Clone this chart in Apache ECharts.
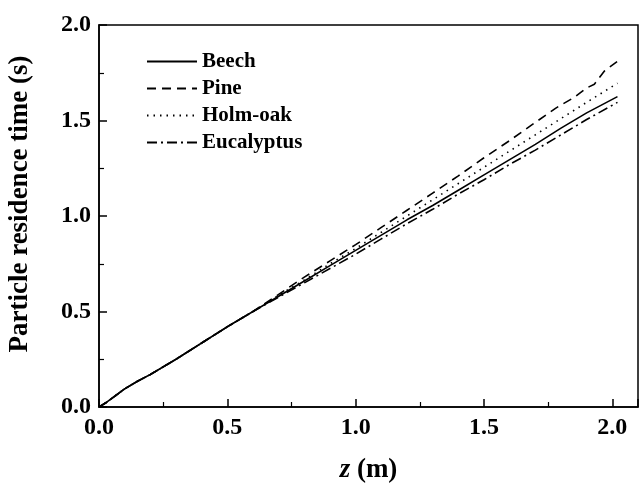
<!DOCTYPE html>
<html>
<head>
<meta charset="utf-8">
<script src="https://cdn.jsdelivr.net/npm/echarts@6/dist/echarts.min.js"></script>
<style>html,body{margin:0;padding:0;background:#fff;}#c{width:640px;height:484px;}</style>
</head>
<body>
<div id="c"></div>
<script>
const seriesNames = ['Beech', 'Pine', 'Holm-oak', 'Eucalyptus'];
const commonZ = [0, 0.03, 0.06, 0.1, 0.15, 0.2, 0.3, 0.4, 0.5, 0.6];
const commonT = [0, 0.025, 0.055, 0.095, 0.135, 0.17, 0.25, 0.335, 0.42, 0.5];

const beechZ = [0.7, 0.8, 0.9, 1.0, 1.1, 1.2, 1.3, 1.4, 1.5, 1.6, 1.7, 1.8, 1.9, 2.02];
const beechT = [0.58, 0.66, 0.74, 0.82, 0.90, 0.98, 1.055, 1.135, 1.215, 1.295, 1.375, 1.46, 1.54, 1.625];

const pineZ = [0.7, 0.8, 0.9, 1.0, 1.1, 1.2, 1.3, 1.4, 1.5, 1.6, 1.7, 1.78, 1.85, 1.9, 1.93, 1.97, 2.02];
const pineT = [0.59, 0.68, 0.765, 0.85, 0.94, 1.03, 1.12, 1.21, 1.305, 1.395, 1.49, 1.565, 1.62, 1.67, 1.69, 1.76, 1.81];

const holmZ = [0.7, 0.8, 0.9, 1.0, 1.1, 1.2, 1.3, 1.4, 1.5, 1.6, 1.7, 1.8, 1.9, 2.02];
const holmT = [0.585, 0.665, 0.75, 0.83, 0.915, 1.0, 1.085, 1.17, 1.255, 1.34, 1.425, 1.51, 1.595, 1.695];

const eucaZ = [0.7, 0.8, 0.9, 1.0, 1.1, 1.2, 1.3, 1.4, 1.5, 1.6, 1.7, 1.8, 1.9, 2.02];
const eucaT = [0.575, 0.65, 0.725, 0.80, 0.88, 0.96, 1.035, 1.115, 1.19, 1.27, 1.345, 1.425, 1.505, 1.595];

const yTitle = 'Particle residence time (s)';

function pairs(z, t) {
  const out = commonZ.map((v, i) => [v, commonT[i]]);
  z.forEach((v, i) => out.push([v, t[i]]));
  return out;
}

const FONT = '"Liberation Serif", "Times New Roman", serif';
const lineStyles = [
  {type: 'solid'},
  {type: [9, 6]},
  {type: [1.5, 5]},
  {type: [10, 4, 2, 4]}
];
const datasets = [pairs(beechZ, beechT), pairs(pineZ, pineT), pairs(holmZ, holmT), pairs(eucaZ, eucaT)];

const chart = echarts.init(document.getElementById('c'));
chart.setOption({
  animation: false,
  backgroundColor: '#fff',
  grid: {left: 99, right: 2, top: 25, bottom: 77, show: true, borderColor: '#000', borderWidth: 1.5,
    backgroundColor: 'transparent', containLabel: false, outerBoundsMode: 'none'},
  legend: {
    orient: 'vertical', left: 141, top: 46,
    itemWidth: 50, itemHeight: 21, itemGap: 6,
    itemStyle: {opacity: 0},
    textStyle: {fontFamily: FONT, fontWeight: 'bold', fontSize: 21, color: '#000'},
    data: seriesNames
  },
  graphic: [{
    type: 'text', x: 20, y: 204, rotation: Math.PI / 2,
    style: {text: yTitle, fontFamily: FONT, fontWeight: 'bold', fontSize: 27, fill: '#000',
      align: 'center', verticalAlign: 'middle'}
  }],
  xAxis: {
    type: 'value', min: 0, max: 2.1, interval: 0.5,
    name: '{i|z}{n| (m)}', nameLocation: 'middle', nameGap: 50,
    nameTextStyle: {rich: {
      i: {fontFamily: FONT, fontWeight: 'bold', fontStyle: 'italic', fontSize: 27, color: '#000'},
      n: {fontFamily: FONT, fontWeight: 'bold', fontSize: 27, color: '#000'}
    }},
    axisLine: {lineStyle: {color: '#000', width: 1.5}},
    axisTick: {inside: true, length: 8, lineStyle: {color: '#000', width: 1.5}},
    minorTick: {show: true, splitNumber: 2, length: 5, lineStyle: {color: '#000', width: 1.2}},
    splitLine: {show: false},
    axisLabel: {fontFamily: FONT, fontWeight: 'bold', fontSize: 24, color: '#000', margin: 9,
      formatter: v => v.toFixed(1), showMaxLabel: false}
  },
  yAxis: {
    type: 'value', min: 0, max: 2.0, interval: 0.5,
    axisLine: {lineStyle: {color: '#000', width: 1.5}},
    axisTick: {inside: true, length: 8, lineStyle: {color: '#000', width: 1.5}},
    minorTick: {show: true, splitNumber: 2, length: 5, lineStyle: {color: '#000', width: 1.2}},
    splitLine: {show: false},
    axisLabel: {fontFamily: FONT, fontWeight: 'bold', fontSize: 24, color: '#000', margin: 8,
      formatter: v => v.toFixed(1)}
  },
  series: seriesNames.map((n, i) => ({
    name: n, type: 'line', data: datasets[i], showSymbol: false, symbol: 'none',
    lineStyle: Object.assign({color: '#000', width: 1.6}, lineStyles[i]),
    itemStyle: {color: '#000'}
  }))
});
</script>
</body>
</html>
